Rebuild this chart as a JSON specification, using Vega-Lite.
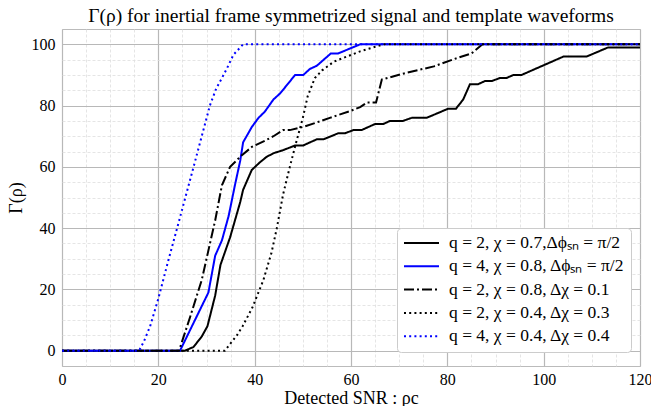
{
  "$schema": "https://vega.github.io/schema/vega-lite/v6.json",
  "width": 578,
  "height": 337,
  "autosize": "none",
  "padding": {"left": 62, "top": 29, "right": 11, "bottom": 40},
  "background": "white",
  "title": {"text": "Γ(ρ) for inertial frame symmetrized signal and template waveforms", "font": "Liberation Serif", "fontSize": 19.5, "fontWeight": "normal", "color": "black", "offset": 3},
  "config": {"view": {"stroke": "#bbbbbb", "strokeWidth": 1}},
  "datasets": {
    "curves": [
      {"snr": 0, "gamma": 0, "series": "A"}, {"snr": 25.5, "gamma": 0, "series": "A"}, {"snr": 27.3, "gamma": 1.2, "series": "A"}, {"snr": 29, "gamma": 4.6, "series": "A"}, {"snr": 30.2, "gamma": 8, "series": "A"}, {"snr": 31.8, "gamma": 18, "series": "A"}, {"snr": 32.9, "gamma": 28, "series": "A"}, {"snr": 34.9, "gamma": 37, "series": "A"}, {"snr": 37, "gamma": 48.5, "series": "A"}, {"snr": 37.6, "gamma": 52.5, "series": "A"}, {"snr": 39.4, "gamma": 59, "series": "A"}, {"snr": 41.1, "gamma": 61.5, "series": "A"}, {"snr": 42.5, "gamma": 63.3, "series": "A"}, {"snr": 44, "gamma": 64.5, "series": "A"}, {"snr": 46, "gamma": 65.5, "series": "A"}, {"snr": 48.4, "gamma": 67, "series": "A"}, {"snr": 50.1, "gamma": 67, "series": "A"}, {"snr": 52.9, "gamma": 69, "series": "A"}, {"snr": 54.3, "gamma": 69, "series": "A"}, {"snr": 57.4, "gamma": 71, "series": "A"}, {"snr": 58.8, "gamma": 71, "series": "A"}, {"snr": 60.5, "gamma": 72, "series": "A"}, {"snr": 62.2, "gamma": 72, "series": "A"}, {"snr": 65, "gamma": 74, "series": "A"}, {"snr": 66.7, "gamma": 74, "series": "A"}, {"snr": 68.1, "gamma": 75, "series": "A"}, {"snr": 70.8, "gamma": 75, "series": "A"}, {"snr": 72.6, "gamma": 76, "series": "A"}, {"snr": 75.7, "gamma": 76, "series": "A"}, {"snr": 80.2, "gamma": 79, "series": "A"}, {"snr": 81.8, "gamma": 79, "series": "A"}, {"snr": 83.3, "gamma": 82, "series": "A"}, {"snr": 84.7, "gamma": 87, "series": "A"}, {"snr": 86.4, "gamma": 87, "series": "A"}, {"snr": 87.8, "gamma": 88, "series": "A"}, {"snr": 89.2, "gamma": 88, "series": "A"}, {"snr": 90.9, "gamma": 89, "series": "A"}, {"snr": 92.3, "gamma": 89, "series": "A"}, {"snr": 93.7, "gamma": 90, "series": "A"}, {"snr": 95.4, "gamma": 90, "series": "A"}, {"snr": 104.1, "gamma": 96, "series": "A"}, {"snr": 108.9, "gamma": 96, "series": "A"}, {"snr": 113.4, "gamma": 99, "series": "A"}, {"snr": 120, "gamma": 99, "series": "A"},
      {"snr": 0, "gamma": 0, "series": "B"}, {"snr": 24.5, "gamma": 0, "series": "B"}, {"snr": 30.4, "gamma": 19, "series": "B"}, {"snr": 31.8, "gamma": 31, "series": "B"}, {"snr": 33.2, "gamma": 36, "series": "B"}, {"snr": 34.6, "gamma": 44, "series": "B"}, {"snr": 35.9, "gamma": 54, "series": "B"}, {"snr": 37, "gamma": 62, "series": "B"}, {"snr": 37.6, "gamma": 68, "series": "B"}, {"snr": 39.4, "gamma": 73, "series": "B"}, {"snr": 40.8, "gamma": 76, "series": "B"}, {"snr": 42.1, "gamma": 78, "series": "B"}, {"snr": 43.9, "gamma": 82, "series": "B"}, {"snr": 45.3, "gamma": 84, "series": "B"}, {"snr": 48.4, "gamma": 90, "series": "B"}, {"snr": 50.1, "gamma": 90, "series": "B"}, {"snr": 51.5, "gamma": 92, "series": "B"}, {"snr": 52.9, "gamma": 93, "series": "B"}, {"snr": 55.8, "gamma": 97, "series": "B"}, {"snr": 57.3, "gamma": 97, "series": "B"}, {"snr": 61.9, "gamma": 100, "series": "B"}, {"snr": 120, "gamma": 100, "series": "B"},
      {"snr": 0, "gamma": 0, "series": "C"}, {"snr": 24.3, "gamma": 0, "series": "C"}, {"snr": 26.6, "gamma": 11, "series": "C"}, {"snr": 29, "gamma": 23, "series": "C"}, {"snr": 31.8, "gamma": 42.5, "series": "C"}, {"snr": 33.2, "gamma": 54, "series": "C"}, {"snr": 34.9, "gamma": 60, "series": "C"}, {"snr": 37, "gamma": 63.3, "series": "C"}, {"snr": 39.4, "gamma": 66.5, "series": "C"}, {"snr": 42.1, "gamma": 68.5, "series": "C"}, {"snr": 43.9, "gamma": 70, "series": "C"}, {"snr": 45.9, "gamma": 72, "series": "C"}, {"snr": 47.3, "gamma": 72, "series": "C"}, {"snr": 50, "gamma": 73, "series": "C"}, {"snr": 52.9, "gamma": 74.5, "series": "C"}, {"snr": 55.6, "gamma": 76, "series": "C"}, {"snr": 59.8, "gamma": 78.2, "series": "C"}, {"snr": 61.9, "gamma": 79.5, "series": "C"}, {"snr": 63.3, "gamma": 81, "series": "C"}, {"snr": 65.2, "gamma": 81, "series": "C"}, {"snr": 66.4, "gamma": 88.5, "series": "C"}, {"snr": 71, "gamma": 90.5, "series": "C"}, {"snr": 77.2, "gamma": 92.8, "series": "C"}, {"snr": 82, "gamma": 95.5, "series": "C"}, {"snr": 85, "gamma": 97, "series": "C"}, {"snr": 87.3, "gamma": 100, "series": "C"}, {"snr": 120, "gamma": 100, "series": "C"},
      {"snr": 0, "gamma": 0, "series": "D"}, {"snr": 33.8, "gamma": 0, "series": "D"}, {"snr": 36.3, "gamma": 5, "series": "D"}, {"snr": 37.5, "gamma": 8, "series": "D"}, {"snr": 39.5, "gamma": 14, "series": "D"}, {"snr": 41.8, "gamma": 23, "series": "D"}, {"snr": 43.5, "gamma": 32, "series": "D"}, {"snr": 44.6, "gamma": 40, "series": "D"}, {"snr": 45.9, "gamma": 51, "series": "D"}, {"snr": 47.3, "gamma": 60, "series": "D"}, {"snr": 48.7, "gamma": 68.5, "series": "D"}, {"snr": 50, "gamma": 76, "series": "D"}, {"snr": 51, "gamma": 83, "series": "D"}, {"snr": 52.5, "gamma": 89, "series": "D"}, {"snr": 54, "gamma": 91.5, "series": "D"}, {"snr": 56.4, "gamma": 94.3, "series": "D"}, {"snr": 58.8, "gamma": 95.8, "series": "D"}, {"snr": 61.9, "gamma": 97.7, "series": "D"}, {"snr": 65, "gamma": 99.2, "series": "D"}, {"snr": 67, "gamma": 100, "series": "D"}, {"snr": 120, "gamma": 100, "series": "D"},
      {"snr": 0, "gamma": 0, "series": "E"}, {"snr": 16, "gamma": 0, "series": "E"}, {"snr": 17, "gamma": 3, "series": "E"}, {"snr": 18.3, "gamma": 8, "series": "E"}, {"snr": 20, "gamma": 17, "series": "E"}, {"snr": 22, "gamma": 29, "series": "E"}, {"snr": 24.5, "gamma": 43.5, "series": "E"}, {"snr": 28, "gamma": 64, "series": "E"}, {"snr": 30.7, "gamma": 80, "series": "E"}, {"snr": 32, "gamma": 85.5, "series": "E"}, {"snr": 33.2, "gamma": 89, "series": "E"}, {"snr": 34.2, "gamma": 92, "series": "E"}, {"snr": 35.6, "gamma": 96.6, "series": "E"}, {"snr": 37.6, "gamma": 100, "series": "E"}, {"snr": 120, "gamma": 100, "series": "E"}
    ],
    "labels": [
      {"series": "A", "label": "q = 2, χ = 0.7,Δϕₛₙ = π/2"},
      {"series": "B", "label": "q = 4, χ = 0.8, Δϕₛₙ = π/2"},
      {"series": "C", "label": "q = 2, χ = 0.8, Δχ = 0.1"},
      {"series": "D", "label": "q = 2, χ = 0.4, Δχ = 0.3"},
      {"series": "E", "label": "q = 4, χ = 0.4, Δχ = 0.4"}
    ]
  },
  "data": {"name": "curves"},
  "transform": [
    {"lookup": "series", "from": {"data": {"name": "labels"}, "key": "series", "fields": ["label"]}}
  ],
  "mark": {"type": "line", "strokeWidth": 2, "clip": true},
  "encoding": {
    "x": {
      "field": "snr", "type": "quantitative",
      "scale": {"domain": [0, 120], "nice": false, "zero": false},
      "axis": {
        "values": [0, 5, 10, 15, 20, 25, 30, 35, 40, 45, 50, 55, 60, 65, 70, 75, 80, 85, 90, 95, 100, 105, 110, 115, 120],
        "labelExpr": "datum.value % 20 === 0 ? datum.label : ''",
        "gridDash": {"condition": {"test": "datum.value % 20 === 0", "value": [1, 0]}, "value": [3, 2]},
        "gridColor": {"condition": {"test": "datum.value % 20 === 0", "value": "#b8b8b8"}, "value": "#dedede"},
        "gridWidth": {"condition": {"test": "datum.value % 20 === 0", "value": 1.2}, "value": 0.8},
        "gridOpacity": 1,
        "ticks": false, "domain": false,
        "labelFont": "Liberation Serif", "labelFontSize": 16, "labelColor": "black",
        "labelFlush": false, "labelOverlap": false, "labelPadding": 5,
        "title": "Detected SNR : ρc", "titleFont": "Liberation Serif", "titleFontSize": 18,
        "titleFontWeight": "normal", "titleColor": "black", "titlePadding": 2
      }
    },
    "y": {
      "field": "gamma", "type": "quantitative",
      "scale": {"domain": [-5, 105], "nice": false, "zero": false},
      "axis": {
        "values": [0, 5, 10, 15, 20, 25, 30, 35, 40, 45, 50, 55, 60, 65, 70, 75, 80, 85, 90, 95, 100],
        "labelExpr": "datum.value % 20 === 0 ? datum.label : ''",
        "gridDash": {"condition": {"test": "datum.value % 20 === 0", "value": [1, 0]}, "value": [3, 2]},
        "gridColor": {"condition": {"test": "datum.value % 20 === 0", "value": "#b8b8b8"}, "value": "#dedede"},
        "gridWidth": {"condition": {"test": "datum.value % 20 === 0", "value": 1.2}, "value": 0.8},
        "gridOpacity": 1,
        "ticks": false, "domain": false,
        "labelFont": "Liberation Serif", "labelFontSize": 16, "labelColor": "black",
        "labelFlush": false, "labelOverlap": false, "labelPadding": 7,
        "title": "Γ(ρ)", "titleFont": "Liberation Serif", "titleFontSize": 18,
        "titleFontWeight": "normal", "titleColor": "black", "titlePadding": 6
      }
    },
    "color": {
      "field": "label", "type": "nominal",
      "scale": {
        "domain": ["q = 2, χ = 0.7,Δϕₛₙ = π/2", "q = 4, χ = 0.8, Δϕₛₙ = π/2", "q = 2, χ = 0.8, Δχ = 0.1", "q = 2, χ = 0.4, Δχ = 0.3", "q = 4, χ = 0.4, Δχ = 0.4"],
        "range": ["black", "blue", "black", "black", "blue"]
      },
      "legend": {
        "orient": "none", "legendX": 335, "legendY": 199, "title": null,
        "fillColor": "white", "strokeColor": "#cccccc", "cornerRadius": 4, "padding": 6,
        "labelFont": "Liberation Serif", "labelFontSize": 17.5, "labelColor": "black", "labelLimit": 300,
        "symbolType": "stroke", "symbolSize": 1225, "symbolStrokeWidth": 2, "labelOffset": 9,
        "clipHeight": 18, "rowPadding": 5.3
      }
    },
    "strokeDash": {
      "field": "label", "type": "nominal",
      "scale": {
        "domain": ["q = 2, χ = 0.7,Δϕₛₙ = π/2", "q = 4, χ = 0.8, Δϕₛₙ = π/2", "q = 2, χ = 0.8, Δχ = 0.1", "q = 2, χ = 0.4, Δχ = 0.3", "q = 4, χ = 0.4, Δχ = 0.4"],
        "range": [[1, 0], [1, 0], [10, 3, 2, 3], [2, 3.2], [2, 3.2]]
      }
    }
  }
}
